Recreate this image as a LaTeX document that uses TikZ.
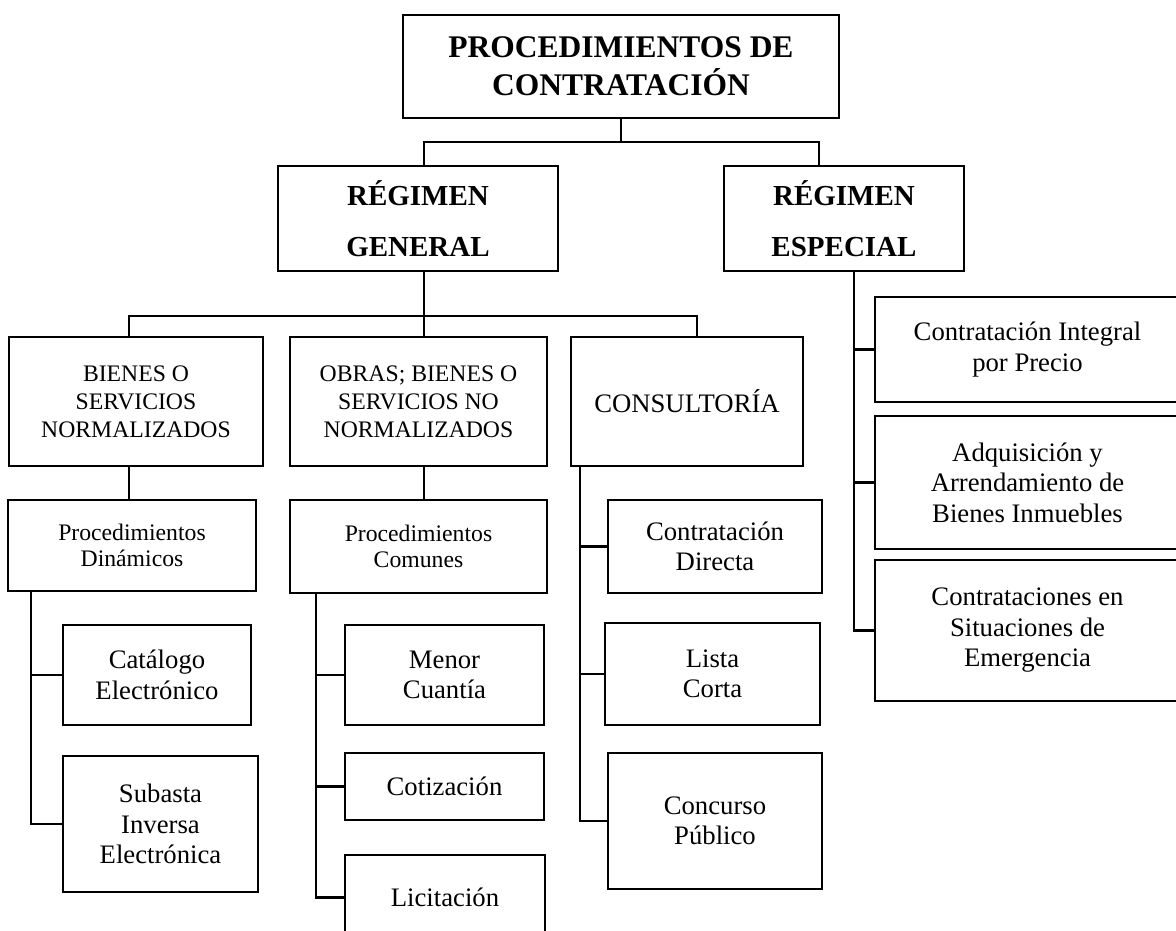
\documentclass[tikz,border=0pt]{standalone}
\usepackage{fontspec}
\setmainfont{Liberation Serif}
\begin{document}
\begin{tikzpicture}[x=1pt, y=-1pt, line width=2.3pt,
    box/.style={draw, align=center, inner sep=0pt},
    title/.style={box, font=\fontsize{31.5}{38}\selectfont\bfseries},
    regime/.style={box, font=\fontsize{29}{51}\selectfont\bfseries},
    group/.style={box, font=\fontsize{23.7}{28}\selectfont},
    proc/.style={box, font=\fontsize{23.7}{26.5}\selectfont},
    leaf/.style={box, font=\fontsize{26.7}{30.5}\selectfont}]
    \useasboundingbox (0, 0) rectangle (1176, 930);
    \clip (0, 0) rectangle (1176, 930);

    \node [title, minimum width=436, minimum height=103] (top) at (621, 66.5) {PROCEDIMIENTOS DE\\CONTRATACIÓN};

    \node [regime, minimum width=280, minimum height=105] (RG) at (418, 218.5) {RÉGIMEN\\GENERAL};
    \node [regime, minimum width=240, minimum height=105] (RE) at (844, 218.5) {RÉGIMEN\\ESPECIAL};

    \node [group, minimum width=254, minimum height=129] (BSN) at (136, 401.5) {BIENES O\\SERVICIOS\\NORMALIZADOS};
    \node [group, minimum width=257, minimum height=129] (OBSN) at (418.5, 401.5) {OBRAS; BIENES O\\SERVICIOS NO\\NORMALIZADOS};
    \node [leaf, minimum width=232, minimum height=129] (CONS) at (687, 401.5) {CONSULTORÍA};

    \node [leaf, minimum width=305, minimum height=105] (CIP) at (1027.5, 349.5) {Contratación Integral\\por Precio};
    \node [leaf, minimum width=305, minimum height=133] (AABI) at (1027.5, 482.5) {Adquisición y\\Arrendamiento de\\Bienes Inmuebles};
    \node [leaf, minimum width=305, minimum height=141] (CSE) at (1027.5, 630.5) {Contrataciones en\\Situaciones de\\Emergencia};

    \node [proc, minimum width=248, minimum height=91] (PD) at (132, 545.5) {Procedimientos\\Dinámicos};
    \node [proc, minimum width=257, minimum height=93] (PC) at (418.5, 546.5) {Procedimientos\\Comunes};

    \node [leaf, minimum width=188, minimum height=100] (CE) at (157, 675) {Catálogo\\Electrónico};
    \node [leaf, minimum width=195, minimum height=136] (SIE) at (160.5, 824) {Subasta\\Inversa\\Electrónica};

    \node [leaf, minimum width=199, minimum height=100] (MC) at (444.5, 675) {Menor\\Cuantía};
    \node [leaf, minimum width=199, minimum height=67] (COT) at (444.5, 786.5) {Cotización};
    \node [leaf, minimum width=200, minimum height=85] (LIC) at (445, 897.5) {Licitación};

    \node [leaf, minimum width=214, minimum height=93] (CD) at (715, 546.5) {Contratación\\Directa};
    \node [leaf, minimum width=215, minimum height=102] (LC) at (712.5, 674) {Lista\\Corta};
    \node [leaf, minimum width=214, minimum height=136] (CP) at (715, 821) {Concurso\\Público};

    \draw (top.south) -- ++(0, 23) -| ([xshift=6pt]RG.north);
    \draw (top.south) -- ++(0, 23) -| ([xshift=-25pt]RE.north);

    \draw ([xshift=6pt]RG.south) -- ++(0, 44) -| ([xshift=-7pt]BSN.north);
    \draw ([xshift=6pt]RG.south) -- ++(0, 44) -| ([xshift=10pt]CONS.north);
    \draw ([xshift=6pt]RG.south) -- ([xshift=5.5pt]OBSN.north);

    \draw ([xshift=-7pt]BSN.south) -- ([xshift=-7pt]BSN.south |- PD.north);
    \draw ([xshift=5.5pt]OBSN.south) -- ([xshift=5.5pt]OBSN.south |- PC.north);

    \draw ([xshift=24pt]PD.south west) |- (CE.west);
    \draw ([xshift=24pt]PD.south west) |- (SIE.west);

    \draw ([xshift=27pt]PC.south west) |- (MC.west);
    \draw ([xshift=27pt]PC.south west) |- (COT.west);
    \draw ([xshift=27pt]PC.south west) |- (LIC.west);

    \draw ([xshift=10pt]CONS.south west) |- (CD.west);
    \draw ([xshift=10pt]CONS.south west) |- (LC.west);
    \draw ([xshift=10pt]CONS.south west) |- (CP.west);

    \draw ([xshift=10pt]RE.south) |- (CIP.west);
    \draw ([xshift=10pt]RE.south) |- (AABI.west);
    \draw ([xshift=10pt]RE.south) |- (CSE.west);
  \end{tikzpicture}
\end{document}
